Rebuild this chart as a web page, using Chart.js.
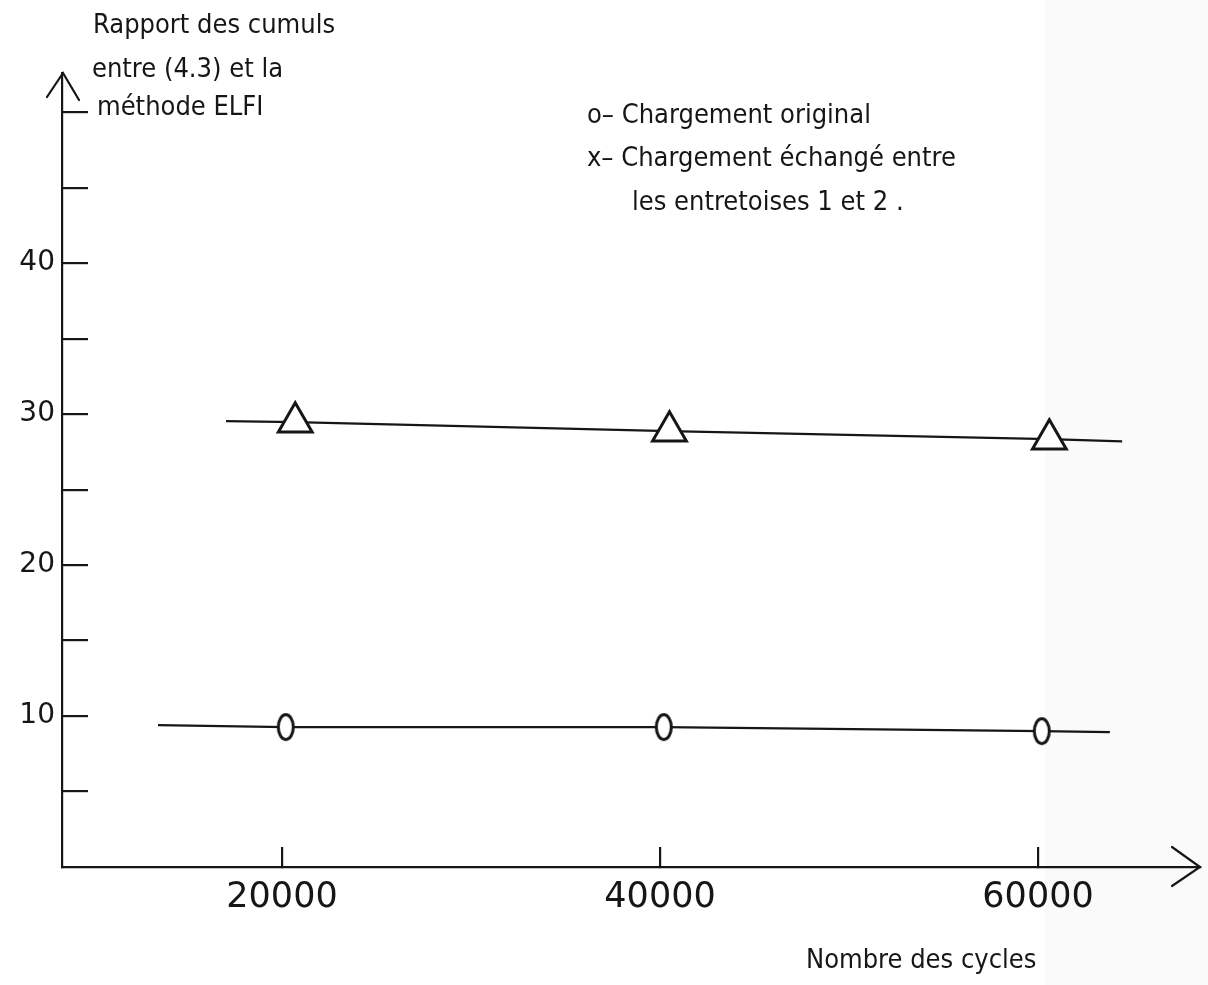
<!DOCTYPE html>
<html>
<head>
<meta charset="utf-8">
<script src="https://cdn.jsdelivr.net/npm/chart.js@4.4.0/dist/chart.umd.min.js"></script>
<style>
  html, body { margin: 0; padding: 0; background: #fff; }
  #wrap { width: 1208px; height: 985px; }
</style>
</head>
<body>
<div id="wrap"><canvas id="chart"></canvas></div>
<script>
// values
const originalX = [13440, 20200, 40200, 60200, 63800];
const originalY = [9.4, 9.27, 9.27, 9.0, 8.94];
const originalMarks = [false, true, true, true, false];

const exchangedX = [17040, 20700, 40500, 60600, 64450];
const exchangedY = [29.54, 29.47, 28.87, 28.34, 28.2];
const exchangedMarks = [false, true, true, true, false];

const xTickValues = [20000, 40000, 60000];
const yTickValues = [5, 10, 15, 20, 25, 30, 35, 40, 45, 50];
const yLabelValues = [10, 20, 30, 40];

const yTitle = ['Rapport des cumuls', 'entre (4.3) et la', 'méthode ELFI'];
const legendLines = ['o– Chargement original', 'x– Chargement échangé entre', 'les entretoises 1 et 2 .'];
const xTitle = 'Nombre des cycles';

const ink = '#161616';
const fontFamily = "'DejaVu Sans', sans-serif";
const handFont = "'DejaVu Sans Condensed', 'DejaVu Sans', sans-serif";

function toPoints(xs, ys) {
    return xs.map((x, i) => ({ x: x, y: ys[i] }));
}

// the "0" marker of the original drawing is an upright oval
function makeOval() {
    const c = document.createElement('canvas');
    c.width = 22;
    c.height = 32;
    const g = c.getContext('2d');
    g.fillStyle = '#fff';
    g.strokeStyle = ink;
    g.lineWidth = 3;
    g.beginPath();
    g.ellipse(11, 16, 7.5, 12.5, 0, 0, Math.PI * 2);
    g.fill();
    g.stroke();
    return c;
}

const paperPlugin = {
    id: 'paper',
    beforeDraw(chart) {
        const ctx = chart.ctx;
        ctx.save();
        ctx.fillStyle = '#ffffff';
        ctx.fillRect(0, 0, chart.width, chart.height);
        ctx.fillStyle = '#fafafa';
        ctx.fillRect(1045, 0, chart.width - 1045, chart.height);
        ctx.restore();
    }
};

const notesPlugin = {
    id: 'notes',
    afterDraw(chart) {
        const ctx = chart.ctx;
        const area = chart.chartArea;
        ctx.save();
        ctx.strokeStyle = ink;
        ctx.lineWidth = 2.2;
        ctx.lineCap = 'round';

        // arrow heads on both axes
        ctx.beginPath();
        ctx.moveTo(area.left - 15, area.top + 24);
        ctx.lineTo(area.left + 1, area.top);
        ctx.lineTo(area.left + 17, area.top + 27);
        ctx.stroke();

        ctx.beginPath();
        ctx.moveTo(area.right - 28, area.bottom - 20);
        ctx.lineTo(area.right, area.bottom);
        ctx.lineTo(area.right - 28, area.bottom + 19);
        ctx.stroke();

        ctx.fillStyle = ink;
        ctx.textAlign = 'left';
        ctx.textBaseline = 'alphabetic';

        ctx.font = '27px ' + handFont;
        ctx.fillText(yTitle[0], 93, 33);
        ctx.fillText(yTitle[1], 92, 77);
        ctx.fillText(yTitle[2], 97, 115);

        ctx.fillText(legendLines[0], 587, 123);
        ctx.fillText(legendLines[1], 587, 166);
        ctx.fillText(legendLines[2], 632, 210);

        ctx.font = '27px ' + handFont;
        ctx.fillText(xTitle, 806, 968);
        ctx.restore();
    }
};

new Chart(document.getElementById('chart'), {
    type: 'line',
    data: {
        datasets: [{
            label: 'Chargement original',
            data: toPoints(originalX, originalY),
            borderColor: ink,
            borderWidth: 2.2,
            pointStyle: makeOval(),
            pointRadius: originalMarks.map(m => m ? 12 : 0),
            pointBackgroundColor: '#fff',
            pointBorderColor: ink,
            fill: false,
            tension: 0
        }, {
            label: 'Chargement échangé entre les entretoises 1 et 2',
            data: toPoints(exchangedX, exchangedY),
            borderColor: ink,
            borderWidth: 2.2,
            pointStyle: 'triangle',
            pointRadius: exchangedMarks.map(m => m ? 19.5 : 0),
            pointBorderWidth: 3,
            pointBackgroundColor: '#fff',
            pointBorderColor: ink,
            fill: false,
            tension: 0
        }]
    },
    options: {
        responsive: true,
        maintainAspectRatio: false,
        animation: false,
        layout: { padding: { top: 73, right: 8, left: 0, bottom: 0 } },
        plugins: {
            legend: { display: false },
            tooltip: { enabled: false }
        },
        scales: {
            x: {
                type: 'linear',
                min: 8360,
                max: 68570,
                afterBuildTicks: scale => { scale.ticks = xTickValues.map(v => ({ value: v })); },
                afterFit: scale => { scale.height = 118; },
                border: { display: true, color: ink, width: 2.2 },
                grid: { drawOnChartArea: false, drawTicks: true, tickLength: -20, color: ink, lineWidth: 2.2 },
                ticks: {
                    padding: 30,
                    color: ink,
                    maxRotation: 0,
                    font: { family: fontFamily, size: 35 },
                    callback: v => String(v)
                }
            },
            y: {
                type: 'linear',
                min: 0,
                max: 52.6,
                afterBuildTicks: scale => { scale.ticks = yTickValues.map(v => ({ value: v })); },
                afterFit: scale => { scale.width = 62; },
                border: { display: true, color: ink, width: 2.2 },
                grid: { drawOnChartArea: false, drawTicks: true, tickLength: -26, color: ink, lineWidth: 2.2 },
                ticks: {
                    padding: 33,
                    color: ink,
                    font: { family: fontFamily, size: 28 },
                    callback: v => yLabelValues.includes(v) ? String(v) : ''
                }
            }
        }
    },
    plugins: [paperPlugin, notesPlugin]
});
</script>
</body>
</html>
